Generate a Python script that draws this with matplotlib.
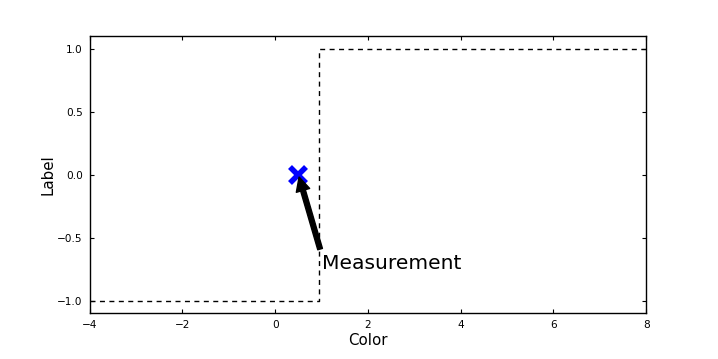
import matplotlib
matplotlib.use("Agg")
import matplotlib.pyplot as plt

# Data
step_x = [-4, 0.95, 0.95, 8]
step_y = [-1, -1, 1, 1]
meas_x = [0.5]
meas_y = [0.0]
annot_text = "Measurement"
annot_xy = (0.5, 0.0)
annot_xytext = (1.0, -0.75)
x_ticks = [-4, -2, 0, 2, 4, 6, 8]
y_ticks = [-1.0, -0.5, 0.0, 0.5, 1.0]

plt.rcParams['font.family'] = ['DejaVu Sans']
fig = plt.figure(figsize=(7.18, 3.59), dpi=100)
ax = fig.add_axes([0.125, 0.127, 0.775, 0.773])

ax.plot(step_x, step_y, color='black', linestyle=(0, (3.6, 3.2)), linewidth=1.0)
ax.plot(meas_x, meas_y, 'x', color='blue', markersize=11, markeredgewidth=4)
ax.annotate(annot_text, xy=annot_xy, xytext=annot_xytext, fontsize=14.6,
            arrowprops=dict(facecolor='black', edgecolor='black', shrink=0.03,
                            width=3.5, headwidth=10, headlength=10))

ax.set_xlim(-4, 8)
ax.set_ylim(-1.1, 1.1)
ax.set_xticks(x_ticks)
ax.set_yticks(y_ticks)
ax.set_xticklabels(['\u2212' + str(abs(t)) if t < 0 else str(t) for t in x_ticks])
ax.set_yticklabels(['\u2212%.1f' % abs(t) if t < 0 else '%.1f' % t for t in y_ticks])
ax.tick_params(direction='in', top=True, right=True, labelsize=7.6, length=3, pad=5)
ax.set_xlabel('Color', fontsize=10.8, labelpad=2)
ax.set_ylabel('Label', fontsize=10.8, labelpad=1)
for s in ax.spines.values():
    s.set_linewidth(1.0)

fig.savefig('out.png', dpi=100, facecolor='white')
